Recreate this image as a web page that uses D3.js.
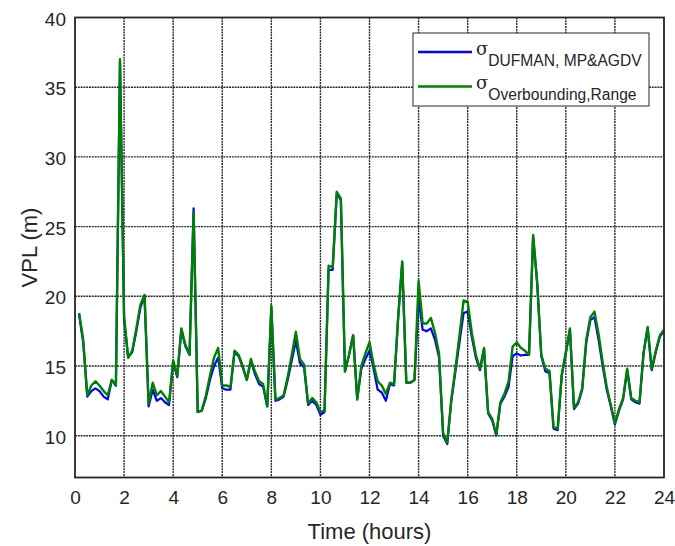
<html>
<head>
<script src="https://d3js.org/d3.v7.min.js"></script>
<style>
  body { margin: 0; background: #fff; }
  text { font-family: "Liberation Sans", Arial, sans-serif; fill: #262626; }
  .grid line { stroke: #2a2a2a; stroke-width: 1.4px; stroke-dasharray: 2,0.8; }
</style>
</head>
<body>
<svg id="chart" width="675" height="546"></svg>
<script>
// time in hours, one sample every 10 minutes
var hours = d3.range(1, 145).map(k => k / 6);

var dufman = [18.7,16.7,12.8,13.2,13.4,13.2,12.8,12.6,14.0,13.6,36.8,18.3,15.6,16.0,17.5,19.2,20.0,12.1,13.3,12.5,12.7,12.4,12.2,15.3,
  14.2,17.6,16.4,15.8,26.3,11.7,11.8,12.7,14.0,15.0,15.6,13.4,13.3,13.3,16.0,15.7,14.9,14.0,15.4,14.4,13.7,13.5,12.1,19.2,
  12.5,12.6,12.8,14.0,15.4,16.8,15.2,14.9,12.2,12.5,12.2,11.5,11.7,21.9,21.9,27.4,26.9,14.6,15.8,17.2,12.6,14.8,15.5,16.1,
  14.8,13.3,13.1,12.5,13.7,13.6,18.4,22.4,13.8,13.8,14.0,19.8,17.6,17.5,17.7,16.9,15.6,10.0,9.4,12.5,14.6,16.7,18.8,18.9,
  17.1,15.6,14.7,16.2,11.6,11.1,10.0,12.3,12.8,13.5,15.7,15.9,15.75,15.8,15.8,24.3,20.9,15.7,14.6,14.5,10.5,10.4,14.3,15.9,
  17.6,11.9,12.3,13.3,16.7,18.3,18.5,16.9,15.0,13.3,12.1,10.8,11.8,12.6,14.7,12.6,12.4,12.3,15.9,17.7,14.7,16.0,17.1,17.5];

var overbounding = [18.8,16.9,12.9,13.6,13.9,13.6,13.2,12.9,14.0,13.6,37.0,18.6,15.6,16.1,17.7,19.4,20.1,12.3,13.8,12.9,13.2,12.8,12.4,15.4,
  14.3,17.7,16.5,15.8,26.0,11.7,11.8,12.9,14.3,15.6,16.3,13.6,13.6,13.5,16.1,15.8,15.0,14.0,15.5,14.6,13.9,13.7,12.1,19.3,
  12.6,12.7,12.9,14.2,15.8,17.45,15.5,15.1,12.3,12.7,12.4,11.7,11.8,22.2,22.1,27.5,27.0,14.6,15.8,17.2,12.6,15.0,15.9,16.7,
  15.1,13.9,13.6,13.0,13.8,13.7,18.5,22.5,13.8,13.8,14.0,21.1,18.05,18.05,18.45,17.4,15.9,10.2,9.5,12.6,14.8,17.2,19.7,19.6,
  17.4,15.8,14.8,16.3,11.7,11.2,10.1,12.4,13.0,13.9,16.4,16.7,16.3,16.1,15.8,24.4,21.0,15.8,14.8,14.65,10.6,10.5,14.4,16.0,
  17.7,12.0,12.4,13.4,16.9,18.5,18.9,17.3,15.3,13.5,12.2,10.9,11.9,12.7,14.8,12.7,12.5,12.4,15.95,17.8,14.8,16.1,17.2,17.6];

var xTicks = d3.range(0, 25, 2);
var yTicks = [10, 15, 20, 25, 30, 35, 40];

var svg = d3.select("#chart");
var pLeft = 75, pRight = 664, pTop = 17.5, pBottom = 477.5;

var x = d3.scaleLinear().domain([0, 24]).range([pLeft, pRight]);
var y = d3.scaleLinear().domain([7, 40]).range([pBottom, pTop]);

// grid
var grid = svg.append("g").attr("class", "grid");
grid.selectAll(".vg").data(xTicks.slice(1, -1)).enter().append("line")
  .attr("x1", d => x(d)).attr("x2", d => x(d)).attr("y1", pTop).attr("y2", pBottom);
grid.selectAll(".hg").data(yTicks.slice(0, -1)).enter().append("line")
  .attr("x1", pLeft).attr("x2", pRight).attr("y1", d => y(d)).attr("y2", d => y(d));

// axes
var xAxis = svg.append("g").attr("transform", "translate(0," + pBottom + ")")
  .call(d3.axisBottom(x).tickValues(xTicks).tickSize(0).tickPadding(13));
var yAxis = svg.append("g").attr("transform", "translate(" + pLeft + ",0)")
  .call(d3.axisLeft(y).tickValues(yTicks).tickSize(0).tickPadding(9));
[xAxis, yAxis].forEach(a => {
  a.select(".domain").remove();
  a.selectAll("text").style("font-size", "19px").attr("fill", "#262626");
});
yAxis.selectAll("text").attr("dy", "0.4em");

// lines
var line = d3.line().x((d, i) => x(hours[i])).y(d => y(d));
svg.append("path").datum(dufman).attr("d", line)
  .attr("fill", "none").attr("stroke", "#0000ff").attr("stroke-width", 2.2).attr("stroke-linejoin", "round");
svg.append("path").datum(overbounding).attr("d", line)
  .attr("fill", "none").attr("stroke", "#008000").attr("stroke-width", 2.4).attr("stroke-linejoin", "round");

// box
svg.append("rect").attr("x", pLeft).attr("y", pTop).attr("width", pRight - pLeft).attr("height", pBottom - pTop)
  .attr("fill", "none").attr("stroke", "#262626").attr("stroke-width", 1.8);

// labels
svg.append("text").attr("x", (pLeft + pRight) / 2).attr("y", 539).attr("text-anchor", "middle")
  .style("font-size", "22px").text("Time (hours)");
svg.append("text").attr("transform", "translate(37," + (pTop + pBottom) / 2 + ") rotate(-90)")
  .attr("text-anchor", "middle").style("font-size", "22px").text("VPL (m)");

// legend
var lg = svg.append("g");
lg.append("rect").attr("x", 413).attr("y", 33).attr("width", 236).attr("height", 73)
  .attr("fill", "#fff").attr("stroke", "#262626").attr("stroke-width", 1);
var items = [
  {sub: "DUFMAN, MP&AGDV", color: "#0000ff", y: 52},
  {sub: "Overbounding,Range", color: "#008000", y: 86.5}
];
items.forEach(it => {
  lg.append("line").attr("x1", 418).attr("x2", 472).attr("y1", it.y).attr("y2", it.y)
    .attr("stroke", it.color).attr("stroke-width", 2.4);
  var t = lg.append("text").attr("x", 476).attr("y", it.y + 2.5);
  t.append("tspan").style("font-family", "'DejaVu Serif', 'Liberation Serif', serif").style("font-size", "18px").text("σ");
  t.append("tspan").attr("dy", 11.3).style("font-size", "15.6px").text(it.sub);
});
</script>
</body>
</html>
